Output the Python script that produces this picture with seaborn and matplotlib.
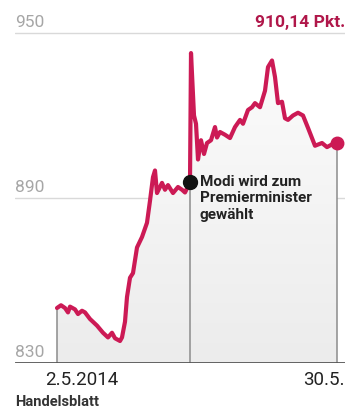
import numpy as np
import pandas as pd
import matplotlib
matplotlib.use("Agg")
import matplotlib.pyplot as plt
import seaborn as sns

# ---- data (days after 2.5.2014, index points) ----
days = [0.0, 0.4, 0.8, 1.1, 1.3, 1.8, 2.1, 2.5, 2.8, 3.3, 4.0, 4.6, 5.1, 5.5,
        5.8, 6.3, 6.5, 6.8, 7.0, 7.3, 7.6, 8.0, 8.5, 9.0, 9.3, 9.6, 9.8, 10.0,
        10.5, 10.8, 11.1, 11.6, 12.1, 12.5, 12.8, 13.3, 13.4, 13.7, 13.9, 14.1,
        14.4, 14.7, 15.0, 15.4, 15.8, 16.0, 16.3, 16.8, 17.3, 17.8, 18.3, 18.6,
        19.1, 19.5, 19.8, 20.3, 20.8, 21.1, 21.5, 21.8, 22.1, 22.5, 22.8, 23.1,
        23.6, 24.1, 24.6, 25.1, 25.8, 26.5, 27.0, 27.5, 28.0]
values = [850.0, 851.0, 850.0, 848.4, 850.5, 849.5, 847.8, 849.0, 848.4, 846.0,
          843.6, 841.0, 839.3, 841.0, 839.0, 838.0, 839.3, 845.0, 854.0, 861.0,
          862.7, 872.0, 875.8, 881.0, 889.0, 897.6, 900.0, 891.8, 895.5, 893.0,
          894.7, 891.8, 894.0, 893.0, 892.0, 895.8, 942.7, 920.0, 917.0, 904.0,
          911.0, 906.0, 910.0, 911.0, 915.8, 912.0, 914.0, 913.0, 911.8, 915.8,
          918.4, 917.0, 922.0, 923.0, 924.5, 923.0, 929.0, 937.6, 940.0, 934.0,
          924.5, 925.0, 919.0, 918.4, 920.0, 921.0, 920.0, 915.5, 909.0, 910.0,
          908.5, 909.5, 910.14]
event_day = 13.3
event_label = "Modi wird zum\nPremierminister\ngewählt"
y_ticks = [830, 890, 950]
start_label = "2.5.2014"
end_label = "30.5."
last_label = "910,14 Pkt."
source = "Handelsblatt"

df = pd.DataFrame({"day": days, "value": values})

sns.set_theme(style="white")
plt.rcParams["font.family"] = ["Roboto", "DejaVu Sans"]

W, H = 349, 409
fig = plt.figure(figsize=(W / 100, H / 100), dpi=100)
ax_l, ax_r, ax_b, ax_t = 15 / W, 345 / W, 1 - 363 / H, 1 - 10 / H
ax = fig.add_axes([ax_l, ax_b, ax_r - ax_l, ax_t - ax_b])
XL = (-4.2, 28.8)
YL = (830, 950 + 23 / 2.75)

red = "#cc1a55"

# gradient fill under the line
xs = np.array(days)
ys = np.array(values)
poly = ax.fill_between(xs, 830, ys, color="none", lw=0)
grad = np.linspace(0, 1, 256).reshape(-1, 1)
img = ax.imshow(grad, extent=[xs.min(), xs.max(), 830, 945], origin="upper",
                aspect="auto", cmap=matplotlib.colors.LinearSegmentedColormap.from_list(
                    "g", ["#fcfcfc", "#ececec"]), zorder=1)
img.set_clip_path(poly.get_paths()[0], transform=ax.transData)

# grid lines
for yv in y_ticks[1:]:
    ax.axhline(yv, color="#d9d9d9", lw=1, zorder=0)
ax.axhline(830, color="#555555", lw=2, zorder=5)
for yv in y_ticks:
    ax.text(XL[0], yv + 1.2, str(yv), color="#a6a6a6", fontsize=12.5,
            ha="left", va="bottom", zorder=6)

# vertical drop lines
ev_val = float(np.interp(event_day, xs, ys))
for xv, yv in [(xs[0], ys[0]), (event_day, ev_val), (xs[-1], ys[-1])]:
    ax.plot([xv, xv], [830, yv], color="#8c8c8c", lw=1.1, zorder=2)

sns.lineplot(data=df, x="day", y="value", ax=ax, color=red, lw=3.0,
             zorder=4, legend=False)
ax.plot([xs[-1]], [ys[-1]], "o", color=red, ms=9, zorder=5)
ax.plot([event_day], [ev_val], "o", color="#111111", ms=10, zorder=6)

ax.text(event_day + 1.0, ev_val + 2.5, event_label, fontsize=11,
        fontweight="bold", color="#222222", ha="left", va="top",
        linespacing=1.2, zorder=7)

ax.set_xlim(*XL)
ax.set_ylim(*YL)
ax.axis("off")

# texts outside
fig.text(345 / W, 1 - 23 / H, last_label, color="#b0174a", fontsize=12.5,
         fontweight="bold", ha="right", va="center")
fig.text(82 / W, 1 - 380 / H, start_label, color="#222222", fontsize=13.5,
         ha="center", va="center")
fig.text(345 / W, 1 - 380 / H, end_label, color="#222222", fontsize=13.5,
         ha="right", va="center")
fig.text(15 / W, 1 - 402 / H, source, color="#333333", fontsize=10.5,
         fontweight="bold", ha="left", va="center")

fig.savefig("out.png", dpi=100, facecolor="white")
